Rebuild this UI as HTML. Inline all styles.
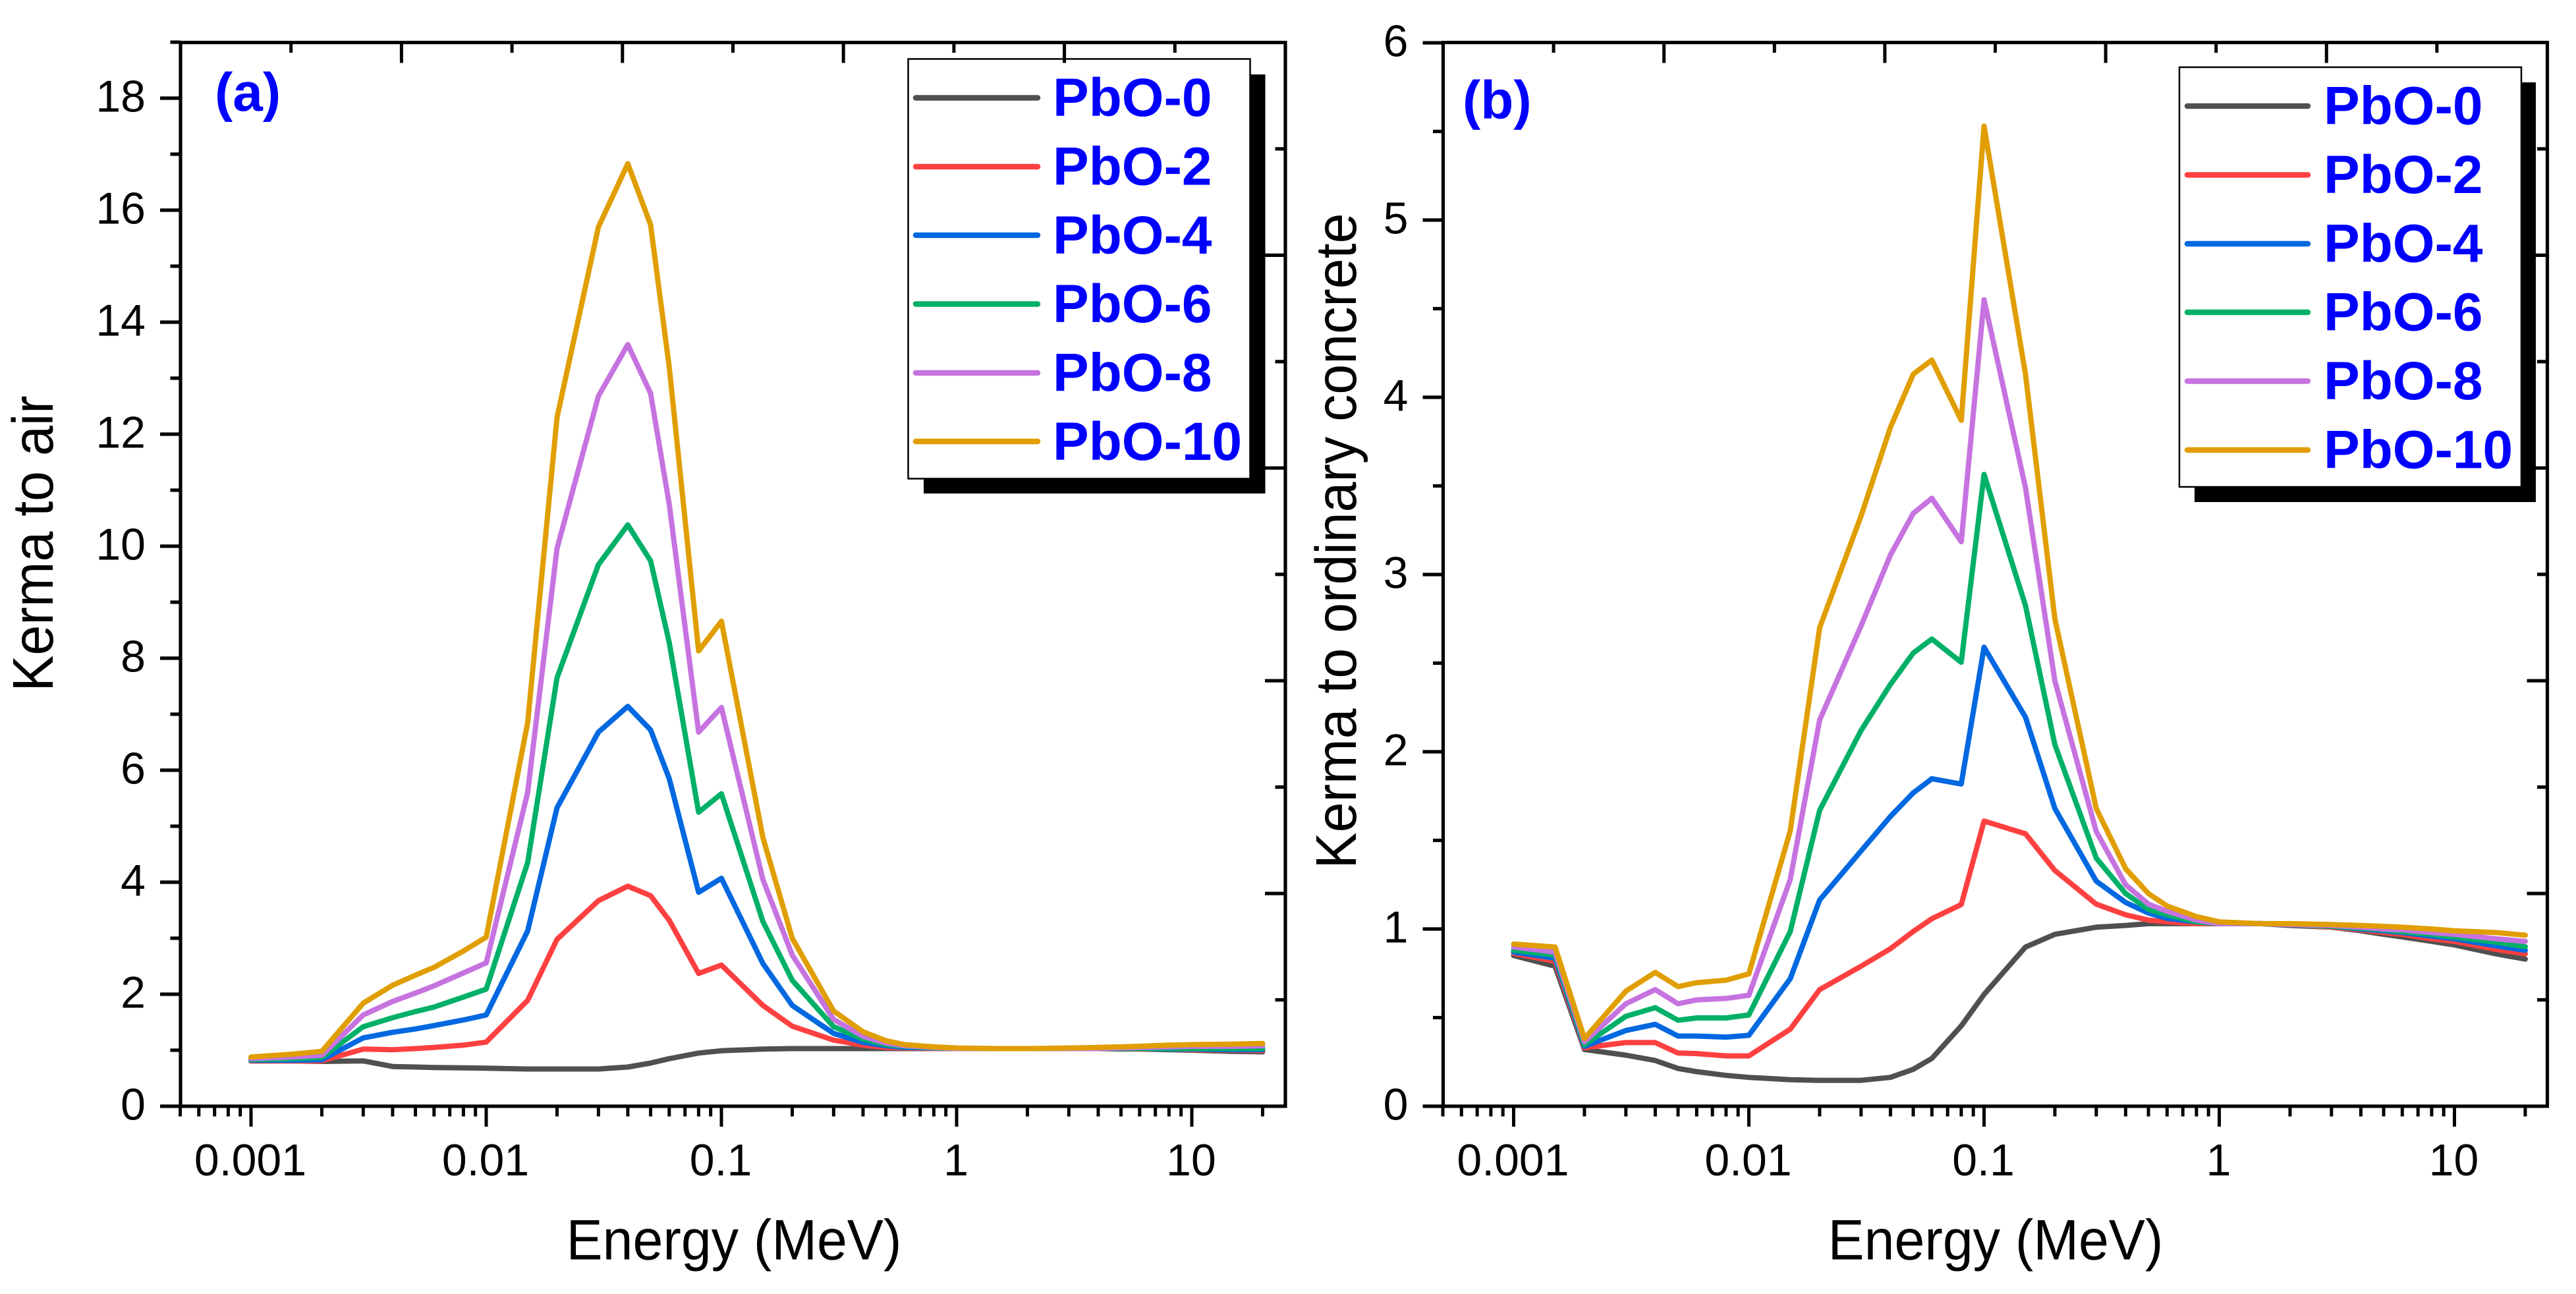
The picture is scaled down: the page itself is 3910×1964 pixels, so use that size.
<!DOCTYPE html>
<html lang="en">
<head>
<meta charset="utf-8">
<title>Kerma relative to air and ordinary concrete for PbO glasses</title>
<style>
html,body{margin:0;padding:0;background:#fff;}
svg{display:block;}
text{font-family:"Liberation Sans",Arial,sans-serif;}
.leg{font-size:82px;font-weight:700;fill:#0000ff;}
.tag{font-size:82px;font-weight:700;fill:#0000ff;}
.title{font-size:82.5px;fill:#000;}
.tick-label{font-size:68px;fill:#000;}
</style>
</head>
<body>
<svg id="chart" xmlns="http://www.w3.org/2000/svg" width="3910" height="1964" viewBox="0 0 3910 1964">
  <rect x="0" y="0" width="3910" height="1964" fill="#ffffff"/>

  <g id="panel-a">
    <g id="a-series"></g>
    <g>
      <rect x="1402" y="113" width="518.5" height="636" fill="#000"/>
      <rect x="1378.5" y="89.5" width="519" height="637" fill="#fff" stroke="#000" stroke-width="2.5"/>
      <g stroke-width="8.5" stroke-linecap="round">
        <line x1="1390" x2="1575" y1="148.5" y2="148.5" stroke="#505050"/>
        <line x1="1390" x2="1575" y1="253" y2="253" stroke="#ff4040"/>
        <line x1="1390" x2="1575" y1="357" y2="357" stroke="#0068e0"/>
        <line x1="1390" x2="1575" y1="461.5" y2="461.5" stroke="#00b068"/>
        <line x1="1390" x2="1575" y1="566" y2="566" stroke="#c673e0"/>
        <line x1="1390" x2="1575" y1="670" y2="670" stroke="#e09e00"/>
      </g>
      <text class="leg" x="1598" y="176">PbO-0</text>
      <text class="leg" x="1598" y="280.5">PbO-2</text>
      <text class="leg" x="1598" y="385">PbO-4</text>
      <text class="leg" x="1598" y="489">PbO-6</text>
      <text class="leg" x="1598" y="593.5">PbO-8</text>
      <text class="leg" x="1598" y="698">PbO-10</text>
    </g>
    <g id="a-axes"></g>
    <text class="tag" x="326" y="168">(a)</text>
    <text class="title" transform="translate(1114,1911.5) scale(1,1.05)" text-anchor="middle">Energy (MeV)</text>
    <text class="title" transform="translate(80,825) rotate(-90) scale(1,1.06)" text-anchor="middle">Kerma to air</text>
  </g>

  <g id="panel-b">
    <g id="b-series"></g>
    <g>
      <rect x="3331" y="125" width="518" height="637" fill="#000"/>
      <rect x="3308" y="102" width="519" height="637" fill="#fff" stroke="#000" stroke-width="2.5"/>
      <g stroke-width="8.5" stroke-linecap="round">
        <line x1="3320" x2="3503" y1="161" y2="161" stroke="#505050"/>
        <line x1="3320" x2="3503" y1="265.5" y2="265.5" stroke="#ff4040"/>
        <line x1="3320" x2="3503" y1="370" y2="370" stroke="#0068e0"/>
        <line x1="3320" x2="3503" y1="474" y2="474" stroke="#00b068"/>
        <line x1="3320" x2="3503" y1="578.5" y2="578.5" stroke="#c673e0"/>
        <line x1="3320" x2="3503" y1="683" y2="683" stroke="#e09e00"/>
      </g>
      <text class="leg" x="3527" y="188.5">PbO-0</text>
      <text class="leg" x="3527" y="293">PbO-2</text>
      <text class="leg" x="3527" y="397.5">PbO-4</text>
      <text class="leg" x="3527" y="501.5">PbO-6</text>
      <text class="leg" x="3527" y="606">PbO-8</text>
      <text class="leg" x="3527" y="710.5">PbO-10</text>
    </g>
    <g id="b-axes"></g>
    <text class="tag" x="2220" y="180">(b)</text>
    <text class="title" transform="translate(3029,1911.5) scale(1,1.05)" text-anchor="middle">Energy (MeV)</text>
    <text class="title" transform="translate(2058,821) rotate(-90) scale(1,1.06)" text-anchor="middle">Kerma to ordinary concrete</text>
  </g>
</svg>

<script>
// ---- data ----
const energies = [0.001,0.0015,0.002,0.003,0.004,0.005,0.006,0.008,0.01,0.015,0.02,0.03,0.04,0.05,0.06,0.08,0.1,0.15,0.2,0.3,0.4,0.5,0.6,0.8,1,1.5,2,3,4,5,6,8,10,15,20];
const seriesNames = ['pbo-0','pbo-2','pbo-4','pbo-6','pbo-8','pbo-10'];
const seriesColors = ['#505050','#ff4040','#0068e0','#00b068','#c673e0','#e09e00'];

const airPbO0 = [.81,.81,.80,.81,.71,.70,.69,.685,.68,.665,.665,.665,.70,.77,.85,.95,.99,1.02,1.03,1.03,1.03,1.03,1.03,1.03,1.03,1.03,1.03,1.03,1.03,1.02,1.02,1.01,1.0,.98,.97];
const airPbO2 = [.81,.81,.81,1.02,1.01,1.03,1.05,1.09,1.145,1.89,2.98,3.67,3.93,3.76,3.32,2.37,2.52,1.8,1.43,1.18,1.09,1.05,1.04,1.03,1.03,1.03,1.03,1.03,1.03,1.03,1.02,1.02,1.01,1.0,.99];
const airPbO4 = [.82,.82,.83,1.22,1.32,1.38,1.44,1.54,1.63,3.13,5.33,6.68,7.14,6.72,5.85,3.82,4.07,2.55,1.8,1.3,1.14,1.08,1.05,1.04,1.03,1.03,1.03,1.03,1.03,1.03,1.03,1.02,1.02,1.01,1.01];
const airPbO6 = [.83,.85,.87,1.42,1.58,1.69,1.77,1.95,2.09,4.35,7.65,9.67,10.38,9.74,8.28,5.25,5.58,3.3,2.25,1.42,1.2,1.1,1.07,1.04,1.03,1.03,1.03,1.03,1.03,1.03,1.03,1.03,1.03,1.03,1.03];
const airPbO8 = [.85,.88,.91,1.63,1.87,2.02,2.15,2.38,2.56,5.6,9.96,12.68,13.6,12.73,10.75,6.68,7.12,4.05,2.7,1.55,1.25,1.13,1.08,1.05,1.03,1.03,1.03,1.03,1.03,1.04,1.05,1.06,1.07,1.07,1.08];
const airPbO10 = [.88,.93,.98,1.84,2.16,2.34,2.48,2.77,3.02,6.85,12.3,15.7,16.83,15.74,13.2,8.13,8.66,4.8,3.0,1.7,1.33,1.17,1.1,1.06,1.04,1.03,1.03,1.04,1.05,1.06,1.07,1.09,1.1,1.11,1.12];

const concPbO0 = [.85,.79,.32,.288,.258,.213,.195,.174,.163,.15,.146,.146,.163,.208,.27,.453,.631,.898,.97,1.01,1.02,1.03,1.03,1.03,1.03,1.03,1.02,1.01,.99,.97,.955,.93,.91,.86,.83];
const concPbO2 = [.862,.818,.33,.359,.359,.30,.297,.284,.284,.435,.658,.79,.889,.986,1.058,1.138,1.609,1.537,1.33,1.14,1.08,1.05,1.04,1.03,1.03,1.03,1.025,1.01,.995,.98,.97,.945,.93,.885,.86];
const concPbO4 = [.87,.835,.338,.427,.462,.396,.396,.39,.40,.72,1.164,1.44,1.635,1.768,1.848,1.818,2.59,2.195,1.68,1.27,1.15,1.09,1.06,1.04,1.03,1.03,1.025,1.015,1.0,.99,.98,.96,.945,.905,.88];
const concPbO6 = [.88,.853,.347,.507,.556,.485,.498,.498,.515,.986,1.67,2.12,2.38,2.557,2.636,2.505,3.565,2.825,2.04,1.4,1.2,1.11,1.08,1.04,1.03,1.03,1.025,1.015,1.005,.995,.985,.97,.955,.925,.9];
const concPbO8 = [.898,.87,.364,.578,.658,.578,.60,.608,.626,1.28,2.18,2.71,3.11,3.345,3.43,3.185,4.55,3.49,2.4,1.55,1.25,1.14,1.1,1.05,1.03,1.03,1.025,1.02,1.01,1.0,.995,.98,.97,.945,.93];
const concPbO10 = [.915,.898,.382,.649,.755,.675,.697,.711,.747,1.555,2.7,3.33,3.83,4.13,4.21,3.87,5.53,4.13,2.75,1.68,1.34,1.2,1.13,1.07,1.04,1.03,1.03,1.025,1.02,1.015,1.01,1.0,.99,.98,.965];

const xMajorTicks = [0.001,0.01,0.1,1,10];
const xMajorLabels = ['0.001','0.01','0.1','1','10'];
const xMinorTicks = [0.0005,0.0006,0.0007,0.0008,0.0009,0.002,0.003,0.004,0.005,0.006,0.007,0.008,0.009,0.02,0.03,0.04,0.05,0.06,0.07,0.08,0.09,0.2,0.3,0.4,0.5,0.6,0.7,0.8,0.9,2,3,4,5,6,7,8,9,20];
const airMajorTicks = [0,2,4,6,8,10,12,14,16,18];
const airMinorTicks = [1,3,5,7,9,11,13,15,17,19];
const concMajorTicks = [0,1,2,3,4,5,6];
const concMinorTicks = [0.5,1.5,2.5,3.5,4.5,5.5];
const oppositeTickSteps = [1,2,3,4,5,6,7,8,9];

const airSeries = [airPbO0,airPbO2,airPbO4,airPbO6,airPbO8,airPbO10];
const concSeries = [concPbO0,concPbO2,concPbO4,concPbO6,concPbO8,concPbO10];

// ---- drawing ----
const NS = 'http://www.w3.org/2000/svg';
const AXIS_W = 5.2, MAJOR = 31, MINOR = 15.5;
const TOP = 64.5, BOTTOM = 1679;

function line(parent, x1, y1, x2, y2, w) {
  const el = document.createElementNS(NS, 'line');
  el.setAttribute('x1', x1);
  el.setAttribute('y1', y1);
  el.setAttribute('x2', x2);
  el.setAttribute('y2', y2);
  el.setAttribute('stroke', '#000');
  el.setAttribute('stroke-width', w);
  parent.appendChild(el);
  return el;
}
function label(parent, x, y, str, anchor) {
  const el = document.createElementNS(NS, 'text');
  el.setAttribute('x', x);
  el.setAttribute('y', y);
  el.setAttribute('text-anchor', anchor);
  el.setAttribute('class', 'tick-label');
  el.textContent = str;
  parent.appendChild(el);
  return el;
}

function drawPanel(cfg) {
  const xOf = e => cfg.x001 + 357 * (Math.log10(e) + 3);
  const yOf = v => BOTTOM - v * cfg.unit;
  const seriesG = document.getElementById(cfg.id + '-series');
  const axesG = document.getElementById(cfg.id + '-axes');

  cfg.series.forEach((vals, i) => {
    const p = document.createElementNS(NS, 'polyline');
    p.setAttribute('points', vals.map((v, k) => xOf(energies[k]).toFixed(1) + ',' + yOf(v).toFixed(1)).join(' '));
    p.setAttribute('fill', 'none');
    p.setAttribute('stroke', seriesColors[i]);
    p.setAttribute('stroke-width', '8');
    p.setAttribute('stroke-linejoin', 'round');
    p.setAttribute('stroke-linecap', 'round');
    
    
    seriesG.appendChild(p);
  });

  const L = cfg.left, R = cfg.right;
  const frame = document.createElementNS(NS, 'rect');
  frame.setAttribute('x', L);
  frame.setAttribute('y', TOP);
  frame.setAttribute('width', R - L);
  frame.setAttribute('height', BOTTOM - TOP);
  frame.setAttribute('fill', 'none');
  frame.setAttribute('stroke', '#000');
  frame.setAttribute('stroke-width', AXIS_W);
  
  
  axesG.appendChild(frame);

  xMajorTicks.forEach((e, i) => {
    const t = line(axesG, xOf(e), BOTTOM, xOf(e), BOTTOM + MAJOR, 5);
    
    
    const l = label(axesG, xOf(e) - 1, 1784, xMajorLabels[i], 'middle');
    
    
  });
  xMinorTicks.forEach(e => {
    const t = line(axesG, xOf(e), BOTTOM, xOf(e), BOTTOM + MINOR, 5);
    
    
  });
  cfg.major.forEach(v => {
    const t = line(axesG, L, yOf(v), L - MAJOR, yOf(v), 5.2);
    
    
    const l = label(axesG, L - 53, yOf(v) + 20.5, String(v), 'end');
    
    
  });
  cfg.minor.forEach(v => {
    const t = line(axesG, L, yOf(v), L - MINOR, yOf(v), 5.2);
    
    
  });
  oppositeTickSteps.forEach(k => {
    const len = k % 2 === 0 ? MAJOR : MINOR;
    const tx = L + k * (R - L) / 10;
    const ty = BOTTOM - k * (BOTTOM - TOP) / 10;
    const top = line(axesG, tx, TOP, tx, TOP + len, 5);
    
    
    const right = line(axesG, R, ty, R - len, ty, 5.2);
    
    
  });
}

drawPanel({id:'a', x001:381, left:274, right:1951, unit:85, series:airSeries, major:airMajorTicks, minor:airMinorTicks});
drawPanel({id:'b', x001:2297.5, left:2190.5, right:3866.5, unit:269, series:concSeries, major:concMajorTicks, minor:concMinorTicks});
</script>
</body>
</html>
